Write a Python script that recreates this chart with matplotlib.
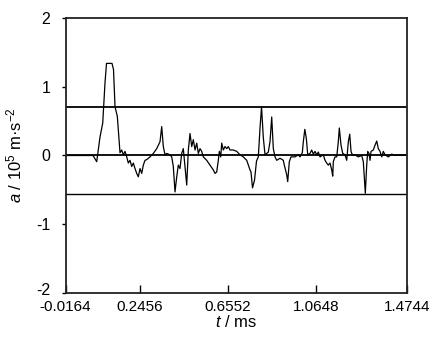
import matplotlib.pyplot as plt
import matplotlib.transforms as mtransforms

plt.rcParams['font.family'] = ['Liberation Sans', 'DejaVu Sans']
plt.rcParams['mathtext.fontset'] = 'custom'
plt.rcParams['mathtext.rm'] = 'Liberation Sans'
plt.rcParams['mathtext.it'] = 'Liberation Sans:italic'

# acceleration trace, t in ms, a in 1e5 m/s^2
t_ms = [-0.0164, 0.1036, 0.1197, 0.1341, 0.1459, 0.1559, 0.1624, 0.1864, 0.1930, 0.1995,
        0.2096, 0.2213, 0.2287, 0.2357, 0.2431, 0.2506, 0.2575, 0.2649, 0.2724, 0.2793,
        0.2868, 0.2942, 0.3012, 0.3086, 0.3160, 0.3230, 0.3304, 0.3378, 0.3522, 0.3666,
        0.3814, 0.3958, 0.4032, 0.4102, 0.4176, 0.4250, 0.4394, 0.4468, 0.4538, 0.4612,
        0.4687, 0.4756, 0.4830, 0.4905, 0.4974, 0.5049, 0.5123, 0.5193, 0.5267, 0.5341,
        0.5411, 0.5485, 0.5559, 0.5629, 0.5703, 0.5777, 0.5847, 0.5995, 0.6139, 0.6283,
        0.6357, 0.6431, 0.6501, 0.6545, 0.6606, 0.6649, 0.6719, 0.6793, 0.6868, 0.6937,
        0.7011, 0.7155, 0.7304, 0.7448, 0.7592, 0.7740, 0.7810, 0.7884, 0.7927, 0.7993,
        0.8080, 0.8167, 0.8246, 0.8320, 0.8386, 0.8464, 0.8538, 0.8612, 0.8682, 0.8756,
        0.8830, 0.8900, 0.8974, 0.9049, 0.9192, 0.9336, 0.9380, 0.9485, 0.9528, 0.9598,
        0.9672, 0.9847, 0.9991, 1.0065, 1.0165, 1.0209, 1.0274, 1.0340, 1.0401, 1.0501,
        1.0575, 1.0645, 1.0719, 1.0793, 1.0863, 1.0937, 1.1081, 1.1155, 1.1230, 1.1299,
        1.1374, 1.1448, 1.1491, 1.1517, 1.1592, 1.1666, 1.1735, 1.1779, 1.1853, 1.1928,
        1.2028, 1.2102, 1.2172, 1.2233, 1.2290, 1.2346, 1.2464, 1.2608, 1.2756, 1.2826,
        1.2870, 1.2913, 1.2974, 1.3018, 1.3075, 1.3118, 1.3162, 1.3262, 1.3336, 1.3411,
        1.3480, 1.3555, 1.3629, 1.3698, 1.3773, 1.3917, 1.4065, 1.4209, 1.4353, 1.4501,
        1.4719]
accel = [0.0, 0.0, -0.09, 0.27, 0.47, 1.06, 1.34, 1.34, 1.25, 0.71,
         0.57, 0.04, 0.08, 0.01, 0.06, -0.02, -0.11, -0.07, -0.16, -0.11,
         -0.19, -0.26, -0.31, -0.19, -0.26, -0.14, -0.07, -0.06, -0.02, 0.03,
         0.10, 0.20, 0.42, 0.13, 0.01, 0.03, 0.01, -0.02, -0.16, -0.53,
         -0.31, -0.14, -0.19, 0.03, 0.10, -0.16, -0.43, 0.08, 0.32, 0.13,
         0.23, 0.08, 0.18, 0.03, 0.10, 0.06, -0.02, -0.07, -0.14, -0.21,
         -0.26, -0.24, -0.07, 0.06, -0.02, 0.18, 0.08, 0.13, 0.10, 0.13,
         0.08, 0.08, 0.06, 0.01, -0.02, -0.07, -0.14, -0.21, -0.24, -0.47,
         -0.36, -0.08, -0.02, 0.40, 0.71, 0.26, 0.01, 0.03, 0.05, 0.20,
         0.56, 0.10, -0.02, -0.07, -0.04, -0.07, -0.14, -0.28, -0.38, -0.09,
         -0.02, -0.02, 0.01, -0.02, 0.04, 0.20, 0.38, 0.25, 0.01, 0.03,
         0.08, 0.02, 0.06, 0.01, 0.05, -0.02, 0.01, -0.07, -0.11, -0.14,
         -0.11, -0.21, -0.30, -0.09, -0.02, -0.02, 0.20, 0.40, 0.15, 0.03,
         0.01, -0.07, 0.20, 0.31, 0.06, 0.01, 0.01, -0.02, 0.0, -0.09,
         -0.33, -0.55, -0.14, 0.06, 0.03, -0.07, 0.06, 0.08, 0.15, 0.21,
         0.10, 0.06, -0.02, 0.06, 0.01, -0.02, 0.02, 0.0, 0.01, 0.0,
         0.01]

upper_limit = 0.71
lower_limit = -0.56

xtick_pos = [-0.0164, 0.3086, 0.6924, 1.0763, 1.4744]
xtick_labels = ['-0.0164', '0.2456', '0.6552', '1.0648', '1.4744']
yticks = [-2, -1, 0, 1, 2]

fig = plt.figure(figsize=(4.29, 3.43), dpi=100)
ax = fig.add_axes([0.1527, 0.1458, 0.7967, 0.8017])

ax.axhline(upper_limit, color='black', lw=1.3)
ax.axhline(0, color='black', lw=1.3)
ax.axhline(lower_limit, color='black', lw=1.0)
ax.plot(t_ms, accel, color='black', lw=0.9)

ax.set_xlim(-0.0164, 1.4744)
ax.set_ylim(-2, 2)
ax.set_xticks(xtick_pos)
ax.set_xticklabels(xtick_labels)
ax.set_yticks(yticks)
ax.set_yticklabels([str(v) for v in yticks])

ax.tick_params(axis='x', direction='in', length=5.5, width=1, labelsize=11, pad=5)
ax.tick_params(axis='y', direction='out', length=3, width=1, labelsize=11.5, pad=8)
for s in ax.spines.values():
    s.set_linewidth(1.3)
    s.set_color('#222222')

# lift the lowest y label a little so it clears the first x label
bottom_lbl = ax.get_yticklabels()[0]
bottom_lbl.set_transform(bottom_lbl.get_transform() +
                         mtransforms.ScaledTranslation(0, 3 / 72, fig.dpi_scale_trans))

ax.set_xlabel(r'$\mathit{t}$ / ms', fontsize=12, labelpad=0)
ax.set_ylabel(r'$\mathit{a}$ / 10$^5$ m·s$^{-2}$', fontsize=12, labelpad=8)

fig.savefig('out.png', dpi=100)
